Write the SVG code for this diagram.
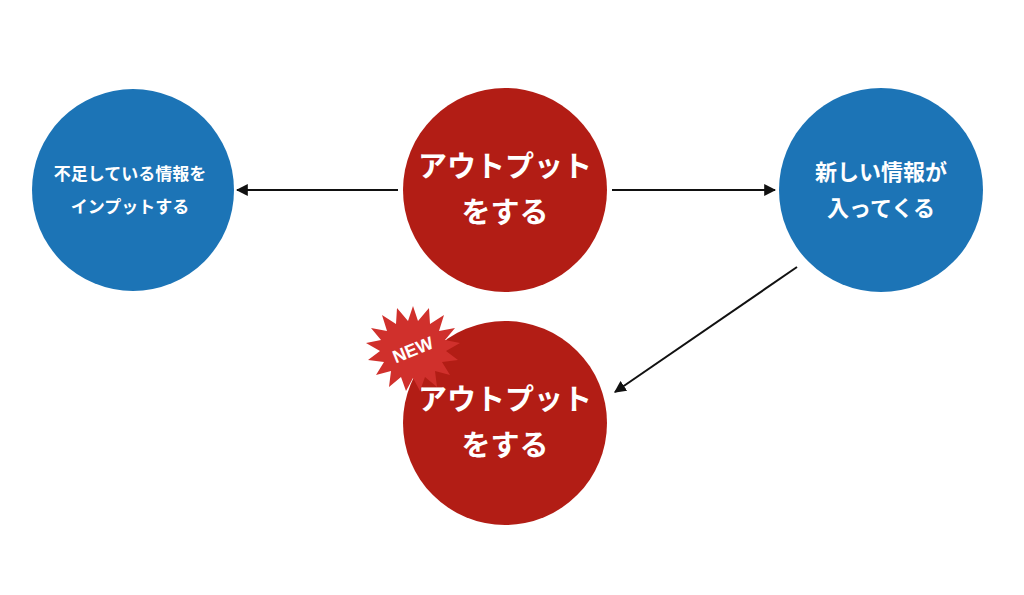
<svg xmlns="http://www.w3.org/2000/svg" width="1024" height="595" viewBox="0 0 1024 595">
<style>
.red{fill:#b21d15}.blue{fill:#1c74b6}
text{font-family:"Noto Sans CJK JP",sans-serif;fill:#fff;font-weight:bold;text-anchor:middle}
.big{font-size:29px}.mid{font-size:22px}.sm{font-size:17px}
.c line{stroke:#111;stroke-width:2;marker-end:url(#a)}
</style>
<defs><marker id="a" viewBox="0 0 10 10" refX="9" refY="5" markerWidth="6" markerHeight="6" orient="auto"><path d="M0,0L10,5L0,10z" fill="#111"/></marker></defs>
<rect width="1024" height="595" fill="#fff"/>
<g id="n1"><circle class="blue" cx="133" cy="190" r="101"/><text class="sm" x="130" y="180">不足している情報を</text><text class="sm" x="130" y="213">インプットする</text></g>
<g id="n2"><circle class="red" cx="505" cy="190" r="102"/><text class="big" x="505" y="177">アウトプット</text><text class="big" x="505" y="223">をする</text></g>
<g id="n3"><circle class="blue" cx="881" cy="190" r="102"/><text class="mid" x="881" y="180">新しい情報が</text><text class="mid" x="881" y="216">入ってくる</text></g>
<g id="n4"><circle class="red" cx="505" cy="423" r="102"/><text class="big" x="505" y="410">アウトプット</text><text class="big" x="505" y="456">をする</text></g>
<g id="badge"><polygon fill="#d0302c" points="413,306 418,321 429,308 430,324 444,315 439,331 455,328 445,340 460,343 446,351 458,360 442,362 450,375 435,371 437,387 425,377 420,391 413,378 406,391 401,377 389,387 391,371 376,375 384,362 368,360 380,351 366,343 381,340 371,328 387,331 382,315 396,324 397,308 408,321"/><text x="413" y="356" style="font-size:18px;font-family:'Liberation Sans',sans-serif" transform="rotate(-22 413 350)">NEW</text></g>
<g class="c"><line x1="398" y1="190" x2="237" y2="190"/><line x1="612" y1="190" x2="775" y2="190"/><line x1="797" y1="267" x2="615" y2="392"/></g>
</svg>
